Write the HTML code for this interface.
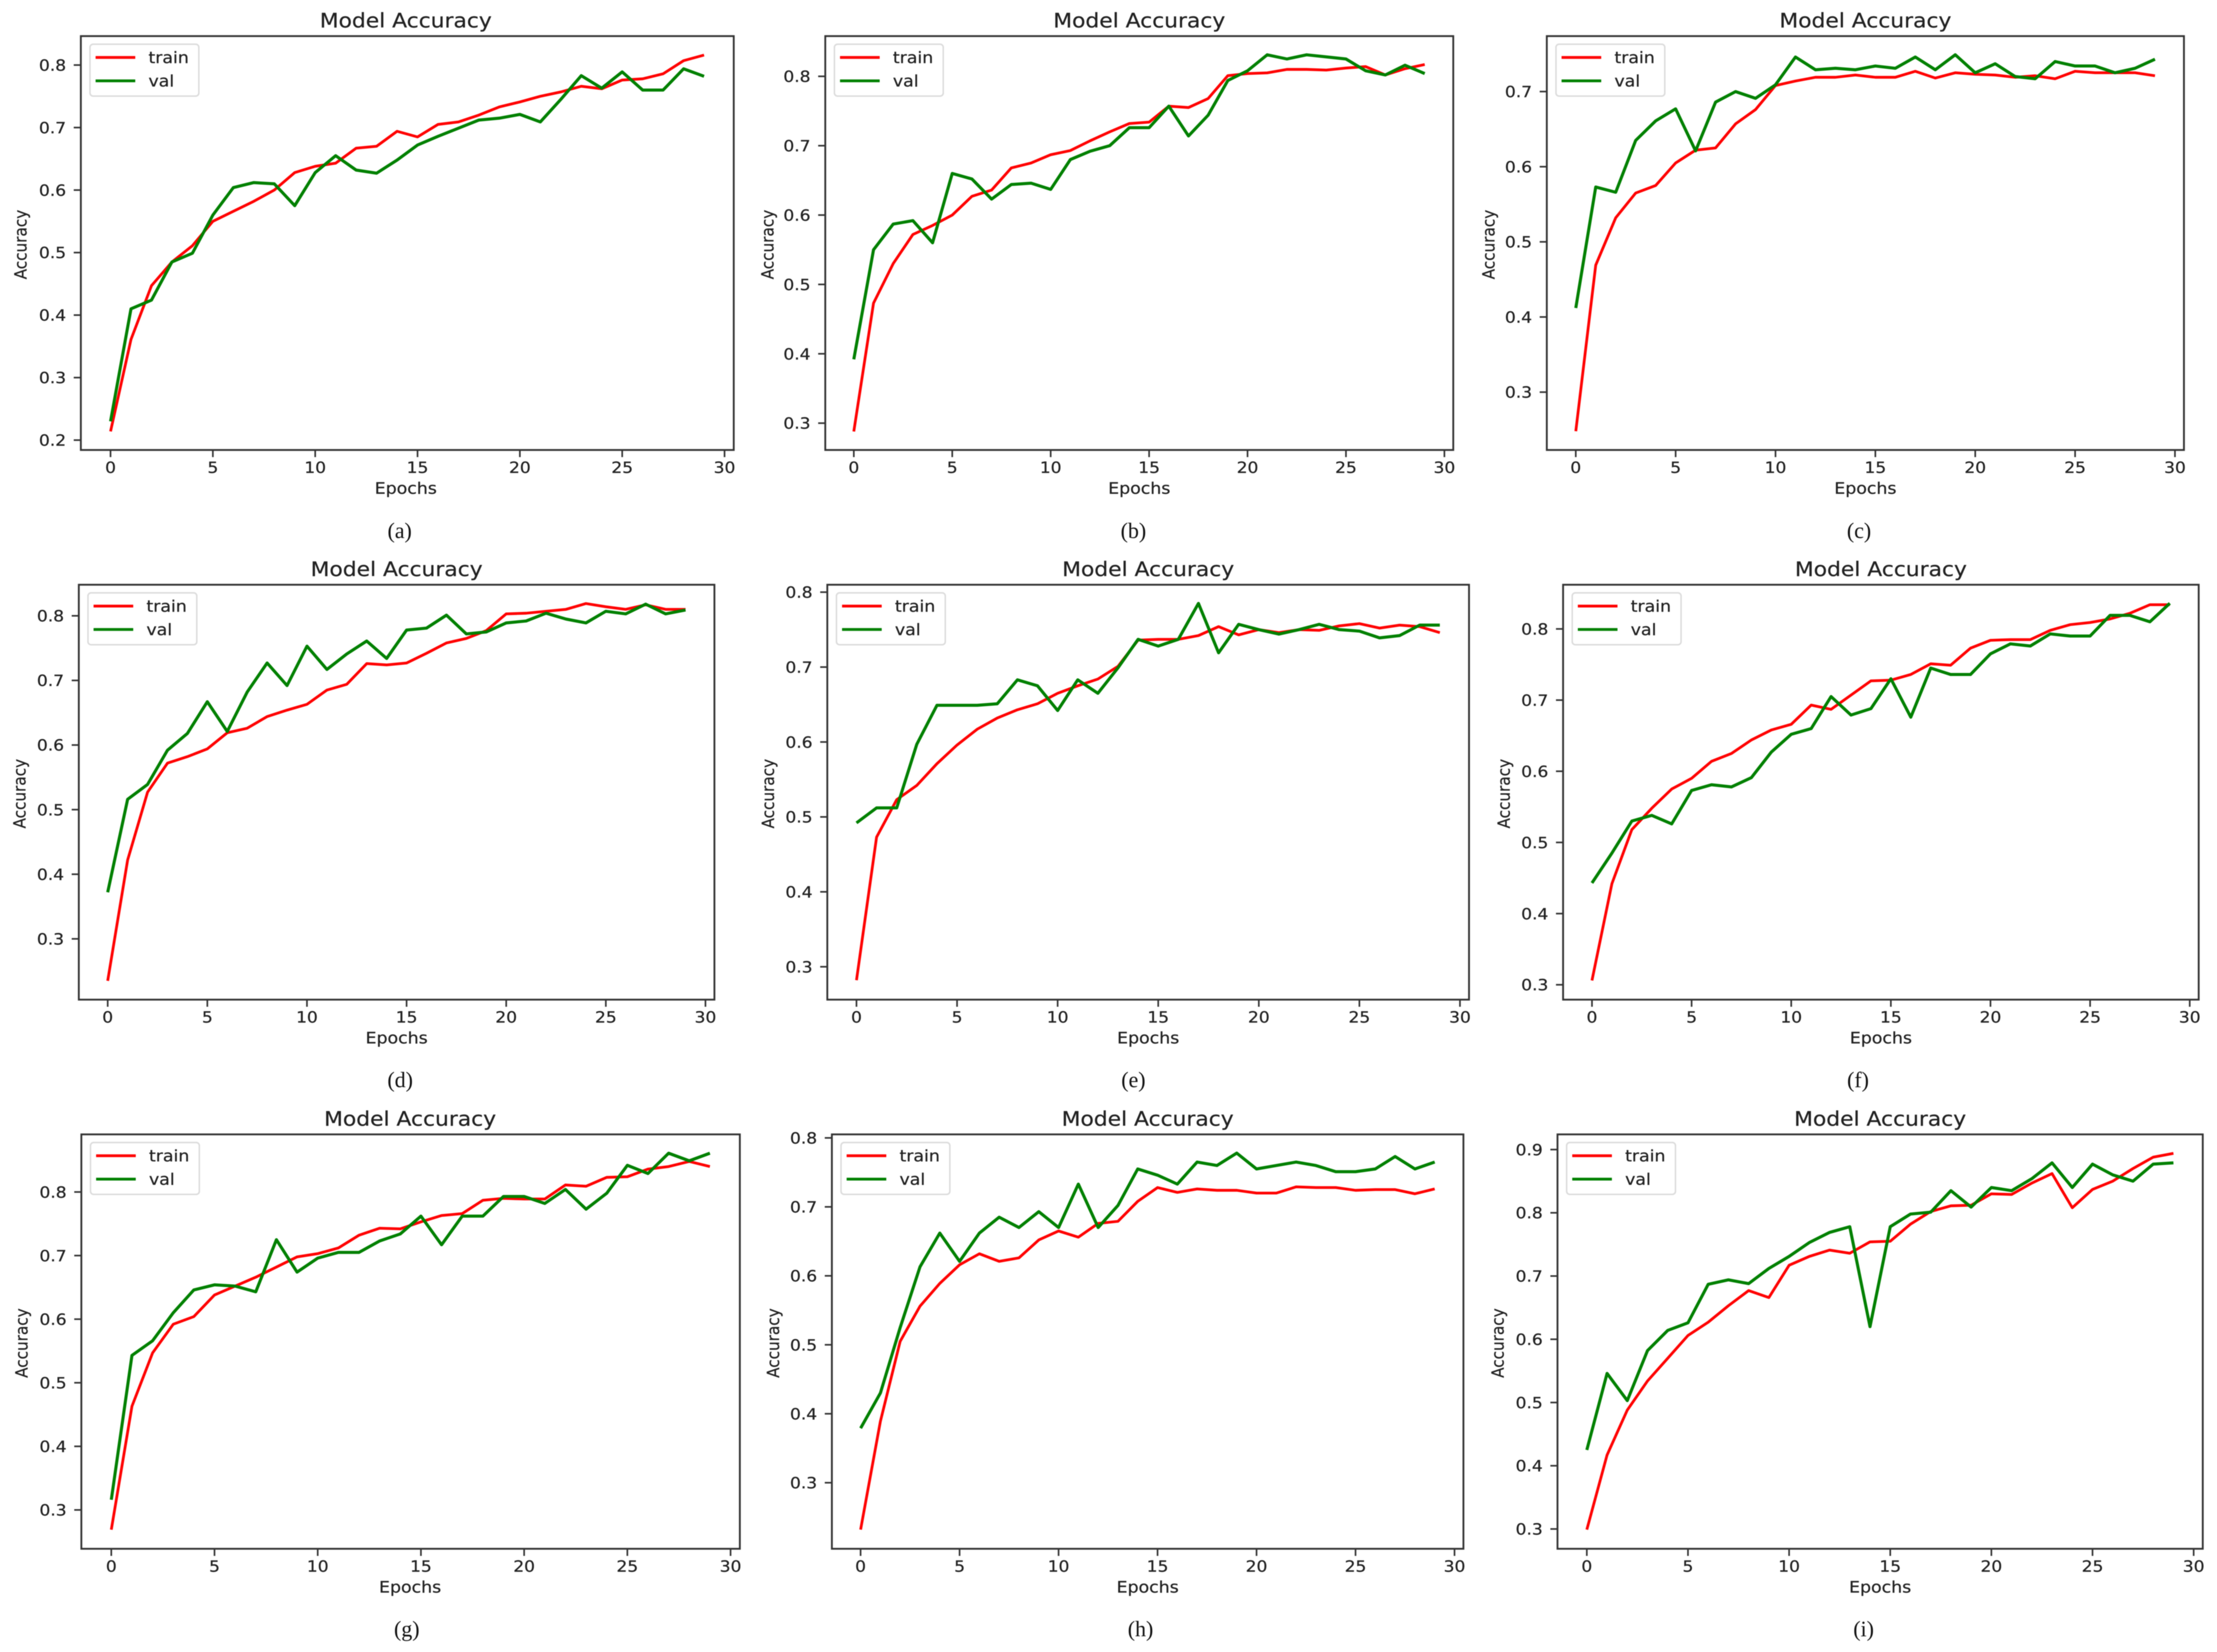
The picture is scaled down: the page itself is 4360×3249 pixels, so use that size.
<!DOCTYPE html>
<html lang="en">
<head>
<meta charset="utf-8">
<title>Model Accuracy Grid</title>
<style>
html,body{margin:0;padding:0;background:#fff;}
#chart{display:block;width:4360px;height:3249px;filter:blur(0.9px);}
text{font-family:"DejaVu Sans","Liberation Sans",sans-serif;fill:#222;stroke:#222;stroke-width:0.4px;}
text.caption{font-family:"Liberation Serif",serif;fill:#111;stroke:none;}
</style>
</head>
<body>
<svg id="chart" xmlns="http://www.w3.org/2000/svg" width="4360" height="3249" viewBox="0 0 4360 3249"></svg>
<script>
const epochs = [0,1,2,3,4,5,6,7,8,9,10,11,12,13,14,15,16,17,18,19,20,21,22,23,24,25,26,27,28,29];
const xTickValues = [0,5,10,15,20,25,30];
const xLimits = [-1.45,30.45];
const seriesLabels = ['train','val'];
const seriesColors = ['#ff0000','#008000'];

const trainA = [0.214,0.361,0.447,0.485,0.511,0.550,0.566,0.582,0.600,0.628,0.638,0.643,0.667,0.670,0.694,0.685,0.705,0.709,0.720,0.733,0.741,0.750,0.757,0.766,0.762,0.776,0.778,0.786,0.807,0.816];
const valA = [0.230,0.410,0.424,0.485,0.499,0.560,0.604,0.612,0.610,0.575,0.628,0.655,0.632,0.627,0.648,0.672,0.686,0.699,0.712,0.715,0.721,0.709,0.745,0.783,0.763,0.789,0.760,0.760,0.794,0.782];
const trainB = [0.288,0.473,0.530,0.572,0.585,0.600,0.627,0.636,0.668,0.675,0.687,0.693,0.707,0.720,0.732,0.734,0.757,0.755,0.768,0.801,0.804,0.805,0.810,0.810,0.809,0.812,0.814,0.802,0.811,0.817];
const valB = [0.392,0.550,0.587,0.592,0.560,0.660,0.652,0.623,0.644,0.646,0.637,0.680,0.692,0.700,0.726,0.726,0.757,0.714,0.744,0.794,0.808,0.831,0.825,0.831,0.828,0.825,0.808,0.802,0.816,0.804];
const trainC = [0.248,0.469,0.532,0.565,0.575,0.605,0.622,0.625,0.657,0.676,0.708,0.714,0.719,0.719,0.722,0.719,0.719,0.727,0.718,0.725,0.723,0.722,0.719,0.721,0.717,0.727,0.725,0.725,0.725,0.721];
const valC = [0.412,0.573,0.566,0.635,0.661,0.677,0.621,0.686,0.700,0.691,0.709,0.746,0.729,0.731,0.729,0.734,0.731,0.746,0.729,0.749,0.725,0.737,0.720,0.717,0.740,0.734,0.734,0.725,0.731,0.743];
const trainD = [0.235,0.422,0.527,0.572,0.582,0.594,0.619,0.626,0.644,0.654,0.663,0.685,0.694,0.726,0.724,0.727,0.742,0.758,0.765,0.777,0.803,0.804,0.807,0.810,0.819,0.814,0.810,0.817,0.810,0.810];
const valD = [0.372,0.516,0.539,0.592,0.618,0.667,0.621,0.682,0.727,0.692,0.753,0.717,0.741,0.761,0.734,0.778,0.781,0.801,0.772,0.775,0.789,0.792,0.804,0.795,0.789,0.807,0.803,0.818,0.803,0.809];
const trainE = [0.282,0.473,0.523,0.542,0.571,0.596,0.617,0.632,0.643,0.651,0.665,0.675,0.684,0.701,0.736,0.737,0.737,0.742,0.754,0.743,0.750,0.746,0.750,0.749,0.755,0.758,0.752,0.756,0.754,0.746];
const valE = [0.492,0.512,0.512,0.597,0.649,0.649,0.649,0.651,0.683,0.675,0.642,0.683,0.665,0.699,0.737,0.728,0.737,0.785,0.719,0.757,0.750,0.744,0.750,0.757,0.750,0.748,0.739,0.742,0.756,0.756];
const trainF = [0.306,0.442,0.518,0.548,0.575,0.590,0.614,0.625,0.644,0.658,0.666,0.693,0.687,0.707,0.727,0.728,0.736,0.751,0.749,0.773,0.784,0.785,0.785,0.798,0.806,0.809,0.814,0.822,0.834,0.834];
const valF = [0.443,0.485,0.530,0.538,0.526,0.573,0.581,0.578,0.591,0.627,0.652,0.660,0.705,0.679,0.688,0.730,0.676,0.745,0.736,0.736,0.765,0.779,0.776,0.793,0.790,0.790,0.819,0.819,0.810,0.836];
const trainG = [0.269,0.463,0.547,0.592,0.604,0.638,0.652,0.666,0.682,0.698,0.703,0.712,0.732,0.743,0.742,0.753,0.763,0.766,0.787,0.790,0.789,0.789,0.811,0.809,0.823,0.824,0.836,0.840,0.848,0.840];
const valG = [0.316,0.543,0.566,0.610,0.646,0.654,0.652,0.643,0.725,0.674,0.696,0.705,0.705,0.723,0.734,0.762,0.717,0.762,0.762,0.793,0.793,0.782,0.804,0.773,0.798,0.842,0.829,0.861,0.849,0.861];
const trainH = [0.232,0.389,0.505,0.556,0.589,0.616,0.632,0.621,0.626,0.652,0.665,0.656,0.676,0.679,0.708,0.728,0.721,0.726,0.724,0.724,0.720,0.720,0.729,0.728,0.728,0.724,0.725,0.725,0.719,0.726];
const valH = [0.379,0.430,0.525,0.613,0.662,0.621,0.662,0.685,0.670,0.693,0.670,0.733,0.670,0.702,0.755,0.746,0.733,0.765,0.760,0.778,0.755,0.760,0.765,0.760,0.751,0.751,0.755,0.773,0.755,0.765];
const trainI = [0.299,0.417,0.488,0.534,0.570,0.606,0.627,0.653,0.677,0.666,0.717,0.731,0.741,0.736,0.754,0.755,0.782,0.802,0.811,0.812,0.830,0.829,0.847,0.862,0.808,0.837,0.850,0.870,0.888,0.894];
const valI = [0.425,0.546,0.503,0.582,0.614,0.626,0.687,0.694,0.688,0.712,0.731,0.753,0.769,0.778,0.620,0.778,0.798,0.801,0.835,0.809,0.840,0.835,0.854,0.879,0.840,0.877,0.860,0.850,0.877,0.879];

const yTicksA = [0.2,0.3,0.4,0.5,0.6,0.7,0.8];
const yTicksB = [0.3,0.4,0.5,0.6,0.7,0.8];
const yTicksC = [0.3,0.4,0.5,0.6,0.7];
const yTicksI = [0.3,0.4,0.5,0.6,0.7,0.8,0.9];

const yLimitsA = [0.1842,0.8463];
const yLimitsB = [0.2613,0.8580];
const yLimitsC = [0.2230,0.7738];
const yLimitsD = [0.2059,0.8481];
const yLimitsE = [0.2561,0.8099];
const yLimitsF = [0.2791,0.8621];
const yLimitsG = [0.2389,0.8906];
const yLimitsH = [0.2042,0.8051];
const yLimitsI = [0.2687,0.9240];

const panels = [
  {id:'a',train:trainA,val:valA,yTicks:yTicksA,yLim:yLimitsA,box:[159,1443,71,885],cap:[786,1058],yl:-107,cxShift:-3},
  {id:'b',train:trainB,val:valB,yTicks:yTicksB,yLim:yLimitsB,box:[1623,2858,71,885],cap:[2229,1058],yl:-102,cxShift:0},
  {id:'c',train:trainC,val:valC,yTicks:yTicksC,yLim:yLimitsC,box:[3042,4295,71,885],cap:[3656,1058],yl:-103,cxShift:0},
  {id:'d',train:trainD,val:valD,yTicks:yTicksB,yLim:yLimitsD,box:[155,1405,1150,1966],cap:[787,2138],yl:-105,cxShift:0},
  {id:'e',train:trainE,val:valE,yTicks:yTicksB,yLim:yLimitsE,box:[1627,2889,1150,1966],cap:[2229,2138],yl:-105,cxShift:0},
  {id:'f',train:trainF,val:valF,yTicks:yTicksB,yLim:yLimitsF,box:[3074,4324,1150,1966],cap:[3654,2138],yl:-105,cxShift:0},
  {id:'g',train:trainG,val:valG,yTicks:yTicksB,yLim:yLimitsG,box:[160,1455,2231,3046],cap:[800,3218],yl:-106,cxShift:-1},
  {id:'h',train:trainH,val:valH,yTicks:yTicksB,yLim:yLimitsH,box:[1636,2878,2231,3046],cap:[2243,3218],yl:-104,cxShift:0},
  {id:'i',train:trainI,val:valI,yTicks:yTicksI,yLim:yLimitsI,box:[3063,4332,2231,3046],cap:[3665,3218],yl:-106,cxShift:0}
];

const NS = 'http://www.w3.org/2000/svg';
const root = document.getElementById('chart');
const STRETCH = 1.1;

function make(parent, tag, attrs, content) {
  const el = document.createElementNS(NS, tag);
  for (const k in attrs) el.setAttribute(k, attrs[k]);
  if (content !== undefined) el.textContent = content;
  parent.appendChild(el);
  return el;
}
function stretched(x, y, rot) {
  return 'translate(' + x + ',' + y + ') scale(' + STRETCH + ',1)' + (rot ? ' rotate(' + rot + ')' : '');
}

panels.forEach(function (p) {
  const L = p.box[0], R = p.box[1], T = p.box[2], B = p.box[3];
  const xScale = function (v) { return L + (v - xLimits[0]) / (xLimits[1] - xLimits[0]) * (R - L); };
  const yScale = function (v) { return B - (v - p.yLim[0]) / (p.yLim[1] - p.yLim[0]) * (B - T); };
  const cx = (L + R) / 2 + p.cxShift;

  const g = make(root, 'g', {});
  
  

  const title = make(g, 'text', {'font-size': 39, 'text-anchor': 'middle', transform: stretched(cx, T - 17)}, 'Model Accuracy');
  
  

  xTickValues.forEach(function (v) {
    const x = xScale(v);
    const tick = make(g, 'line', {x1: x, x2: x, y1: B, y2: B + 14, stroke: '#333', 'stroke-width': 3.2});
    
    
    const label = make(g, 'text', {'font-size': 30.5, 'text-anchor': 'middle', transform: stretched(x, B + 45)}, String(v));
    
    
  });

  p.yTicks.forEach(function (v) {
    const y = yScale(v);
    const tick = make(g, 'line', {x1: L - 14, x2: L, y1: y, y2: y, stroke: '#333', 'stroke-width': 3.2});
    
    
    const label = make(g, 'text', {'font-size': 30.5, 'text-anchor': 'end', transform: stretched(L - 29, y + 11)}, v.toFixed(1));
    
    
  });

  const xTitle = make(g, 'text', {'font-size': 31, 'text-anchor': 'middle', transform: stretched(cx, B + 86)}, 'Epochs');
  
  

  const yTitle = make(g, 'text', {'font-size': 30, 'text-anchor': 'middle', transform: stretched(L + p.yl, (T + B) / 2 + 3, -90)}, 'Accuracy');
  
  

  [p.train, p.val].forEach(function (series, i) {
    const pts = series.map(function (v, k) { return xScale(epochs[k]).toFixed(1) + ',' + yScale(v).toFixed(1); }).join(' ');
    const line = make(g, 'polyline', {points: pts, fill: 'none', stroke: seriesColors[i], 'stroke-width': i === 0 ? 5.4 : 6, 'stroke-linejoin': 'round'});
    
    
  });

  const frame = make(g, 'rect', {x: L, y: T, width: R - L, height: B - T, fill: 'none', stroke: '#333', 'stroke-width': 3.6});
  
  

  const legend = make(g, 'g', {});
  
  
  const legendBox = make(legend, 'rect', {x: L + 18, y: T + 16, width: 214, height: 102, rx: 6, fill: '#fff', 'fill-opacity': 0.8, stroke: '#dcdcdc', 'stroke-width': 3});
  
  
  seriesLabels.forEach(function (name, i) {
    const swatch = make(legend, 'line', {x1: L + 29, x2: L + 107, y1: T + 42 + i * 46, y2: T + 42 + i * 46, stroke: seriesColors[i], 'stroke-width': 5.4});
    
    
    const entry = make(legend, 'text', {'font-size': 31, transform: stretched(L + 133, T + 53 + i * 46)}, name);
    
    
  });

  const caption = make(g, 'text', {'class': 'caption', 'font-size': 43, 'text-anchor': 'middle', x: p.cap[0], y: p.cap[1]}, '(' + p.id + ')');
  
  
});
</script>
</body>
</html>
